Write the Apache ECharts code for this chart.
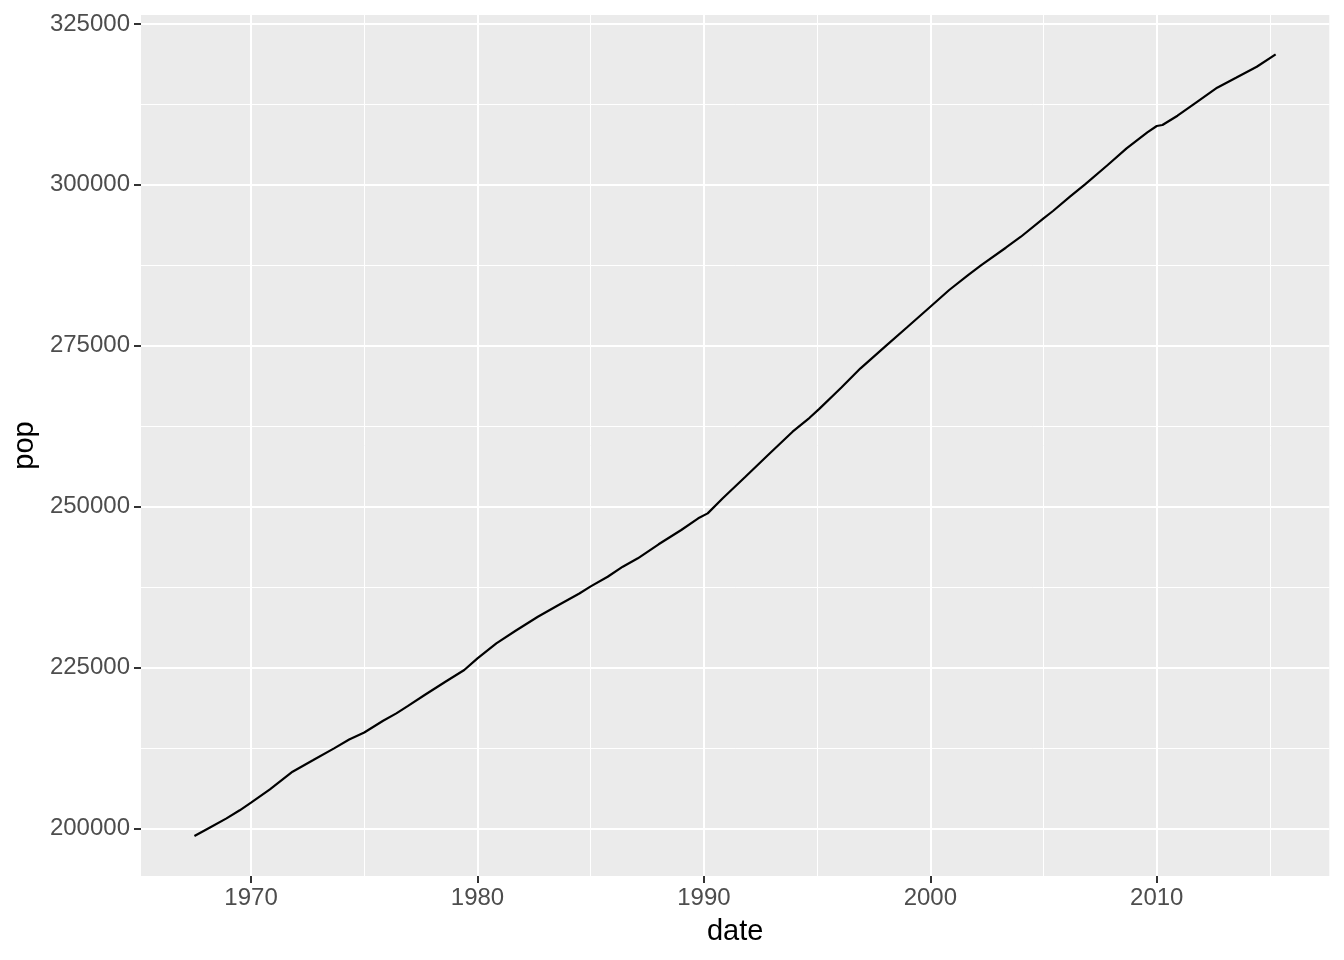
<!DOCTYPE html>
<html>
<head>
<meta charset="utf-8">
<script src="https://cdn.jsdelivr.net/npm/echarts@6/dist/echarts.min.js"></script>
<style>
html,body{margin:0;padding:0;background:#fff;}
#chart{width:1344px;height:960px;}
</style>
</head>
<body>
<div id="chart"></div>
<script>
// Data (US population, thousands)
const dates = ['1967-07','1968-03','1968-12','1969-07','1970-01','1970-11','1971-11','1972-10','1973-09','1974-05',
  '1975-01','1975-11','1976-06','1976-12','1977-09','1978-08','1979-06','1980-01','1980-11','1981-09',
  '1982-09','1983-08','1984-07','1985-01','1985-10','1986-06','1987-02','1988-01','1989-01','1989-10',
  '1990-03','1990-11','1991-11','1992-11','1993-12','1994-09','1995-02','1995-11','1996-02','1996-12',
  '1998-01','1999-01','2000-01','2000-11','2001-09','2002-04','2003-05','2004-01','2005-01','2005-06',
  '2006-03','2006-11','2007-11','2008-09','2009-08','2010-01','2010-04','2010-12','2011-10','2012-09',
  '2013-07','2014-06','2015-04'];
const pop = [198800,200090,201550,202800,203980,206060,208800,210610,212430,213800,
  214900,216720,217870,219000,220720,222780,224600,226420,228750,230660,
  232880,234700,236500,237600,239100,240660,241960,244140,246360,248180,
  248950,251290,254640,258020,261640,263800,265150,267700,268550,271490,
  274850,277950,281060,283660,285990,287540,290230,291940,294800,295940,
  298160,300090,303090,305680,308170,309150,309300,310750,312830,315100,
  316650,318360,320290];

const xTicks = [1970,1980,1990,2000,2010];
const xMinorTicks = [1975,1985,1995,2005,2015];
const yTicks = [200000,225000,250000,275000,300000,325000];
const yMinorTicks = [212500,237500,262500,287500,312500];

function toYear(d){
  const p = d.split('-');
  return +p[0] + (+p[1]-1)/12;
}

const X_MIN = 1965.14, X_MAX = 2017.62;
const Y_MIN = 192590, Y_MAX = 326400;
const FONT = '"Liberation Sans", Arial, sans-serif';

const chart = echarts.init(document.getElementById('chart'), null, {renderer:'canvas'});
chart.setOption({
  animation:false,
  backgroundColor:'#ffffff',
  grid:{left:141,right:14.7,top:15,bottom:84,show:true,backgroundColor:'#EBEBEB',borderWidth:0},
  xAxis:[{
    type:'value',min:X_MIN,max:X_MAX,
    name:'date',nameLocation:'middle',nameGap:41,
    nameTextStyle:{color:'#000',fontSize:29,fontFamily:FONT},
    axisLine:{show:false},
    axisTick:{show:true,customValues:xTicks,length:7,lineStyle:{color:'#333333',width:2}},
    axisLabel:{show:true,customValues:xTicks,margin:10,color:'#4D4D4D',fontSize:24,fontFamily:FONT,formatter:v=>String(v)},
    splitLine:{show:true,lineStyle:{color:'#ffffff',width:2}}
  },{
    type:'value',min:X_MIN,max:X_MAX,gridIndex:0,position:'bottom',
    axisLine:{show:false},
    axisTick:{show:false,customValues:xMinorTicks},
    axisLabel:{show:false,customValues:xMinorTicks},
    splitLine:{show:true,lineStyle:{color:'#ffffff',width:1}}
  }],
  yAxis:[{
    type:'value',min:Y_MIN,max:Y_MAX,
    name:'pop',nameLocation:'middle',nameGap:100,
    nameTextStyle:{color:'#000',fontSize:29,fontFamily:FONT},
    axisLine:{show:false},
    axisTick:{show:true,customValues:yTicks,length:7,lineStyle:{color:'#333333',width:2}},
    axisLabel:{show:true,customValues:yTicks,margin:11,color:'#4D4D4D',fontSize:24,fontFamily:FONT,formatter:v=>String(v)},
    splitLine:{show:true,lineStyle:{color:'#ffffff',width:2}}
  },{
    type:'value',min:Y_MIN,max:Y_MAX,gridIndex:0,position:'left',
    axisLine:{show:false},
    axisTick:{show:false,customValues:yMinorTicks},
    axisLabel:{show:false,customValues:yMinorTicks},
    splitLine:{show:true,lineStyle:{color:'#ffffff',width:1}}
  }],
  series:[{
    type:'line',xAxisIndex:0,yAxisIndex:0,
    showSymbol:false,symbol:'none',
    lineStyle:{color:'#000000',width:2.2},
    data:dates.map((d,i)=>[toYear(d),pop[i]])
  }]
});
</script>
</body>
</html>
